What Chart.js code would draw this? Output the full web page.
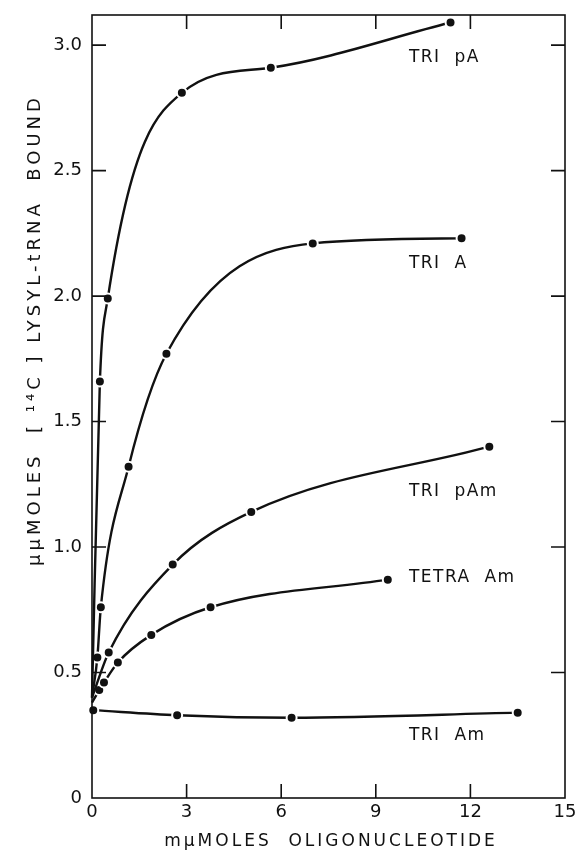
<!DOCTYPE html>
<html><head><meta charset="utf-8">
<script src="https://cdn.jsdelivr.net/npm/chart.js@4/dist/chart.umd.min.js"></script>
<style>html,body{margin:0;padding:0;background:#fff}</style>
</head><body>
<canvas id="c" width="576" height="852"></canvas>
<script>
// ---- data ----
const seriesNames = ["TRI pA", "TRI A", "TRI pAm", "TETRA Am", "TRI Am"];
const triPA_x   = [0, 0.25, 0.5, 2.85, 5.67, 11.37];
const triPA_y   = [0.40, 1.66, 1.99, 2.81, 2.91, 3.09];
const triA_x    = [0, 0.17, 0.28, 1.16, 2.36, 7.0, 11.72];
const triA_y    = [0.40, 0.56, 0.76, 1.32, 1.77, 2.21, 2.23];
const triPAm_x  = [0, 0.53, 2.56, 5.05, 12.6];
const triPAm_y  = [0.40, 0.58, 0.93, 1.14, 1.40];
const tetraAm_x = [0, 0.23, 0.38, 0.82, 1.88, 3.76, 9.38];
const tetraAm_y = [0.38, 0.43, 0.46, 0.54, 0.65, 0.76, 0.87];
const triAm_x   = [0.04, 2.7, 6.33, 13.5];
const triAm_y   = [0.35, 0.33, 0.32, 0.34];
const xTicks = [0, 3, 6, 9, 12, 15];
const yTicks = [0, 0.5, 1.0, 1.5, 2.0, 2.5, 3.0];
// label anchor (data coords) for each series name
const labelX = [10.05, 10.05, 10.05, 10.05, 10.05];
const labelY = [2.95, 2.13, 1.22, 0.88, 0.25];
const xTitle = "mμMOLES  OLIGONUCLEOTIDE";
const yTitle = "μμMOLES  [ ¹⁴C ] LYSYL-tRNA  BOUND";

const FONT = "'DejaVu Sans', sans-serif";
function pts(xs, ys){ return xs.map((x,i)=>({x, y: ys[i]})); }
const allX = [triPA_x, triA_x, triPAm_x, tetraAm_x, triAm_x];
const allY = [triPA_y, triA_y, triPAm_y, tetraAm_y, triAm_y];
const hideFirst = [true, true, true, true, false];

const datasets = seriesNames.map((n,k)=>({
  label: n,
  data: pts(allX[k], allY[k]),
  showLine: true,
  borderColor: '#111',
  borderWidth: 2.4,
  cubicInterpolationMode: 'monotone',
  pointBackgroundColor: '#111',
  pointBorderColor: '#fff',
  pointBorderWidth: 2,
  pointRadius: c => (hideFirst[k] && c.dataIndex === 0) ? 0 : 5,
  clip: false
}));

const framePlugin = {
  id: 'frame',
  afterDatasetsDraw(chart){
    const {ctx, chartArea: a, scales: {x, y}} = chart;
    ctx.save();
    ctx.strokeStyle = '#111';
    ctx.lineWidth = 1.6;
    ctx.strokeRect(a.left, a.top, a.right - a.left, a.bottom - a.top);
    const L = 14;
    ctx.beginPath();
    xTicks.forEach(v => {
      if (v === 0 || v === 15) return;
      const px = x.getPixelForValue(v);
      ctx.moveTo(px, a.bottom); ctx.lineTo(px, a.bottom - L);
      ctx.moveTo(px, a.top); ctx.lineTo(px, a.top + L);
    });
    yTicks.forEach(v => {
      if (v === 0) return;
      const py = y.getPixelForValue(v);
      ctx.moveTo(a.left, py); ctx.lineTo(a.left + L, py);
      ctx.moveTo(a.right, py); ctx.lineTo(a.right - L, py);
    });
    ctx.stroke();
    // series labels
    ctx.fillStyle = '#111';
    ctx.font = "17px " + FONT;
    ctx.textBaseline = 'middle';
    ctx.textAlign = 'left';
    try { ctx.letterSpacing = '1.5px'; } catch(e) {}
    seriesNames.forEach((n,i)=>{
      ctx.fillText(n.replace(' ', '  '), x.getPixelForValue(labelX[i]), y.getPixelForValue(labelY[i]));
    });
    // axis titles
    ctx.font = "17px " + FONT;
    try { ctx.letterSpacing = '3px'; } catch(e) {}
    ctx.textAlign = 'center';
    ctx.fillText(xTitle, 331, 842);
    ctx.font = "18px " + FONT;
    try { ctx.letterSpacing = '4px'; } catch(e) {}
    ctx.translate(35, 330);
    ctx.rotate(-Math.PI/2);
    ctx.fillText(yTitle, 0, 0);
    ctx.restore();
  }
};

new Chart(document.getElementById('c'), {
  type: 'scatter',
  data: { datasets },
  options: {
    responsive: false,
    animation: false,
    layout: { padding: { left: 0, right: 11, top: 15, bottom: 0 } },
    plugins: { legend: { display: false }, tooltip: { enabled: false } },
    scales: {
      x: {
        type: 'linear', min: 0, max: 15,
        afterFit(s){ s.height = 54; s.paddingLeft = 0; s.paddingRight = 0; },
        afterBuildTicks(s){ s.ticks = xTicks.map(v=>({value:v})); },
        grid: { display: false, drawTicks: false },
        border: { display: false },
        ticks: { color: '#111', font: { family: FONT, size: 18 }, padding: 4, callback: v => String(v) }
      },
      y: {
        type: 'linear', min: 0, max: 3.12,
        afterFit(s){ s.width = 92; s.paddingTop = 0; s.paddingBottom = 0; },
        afterBuildTicks(s){ s.ticks = yTicks.map(v=>({value:v})); },
        grid: { display: false, drawTicks: false },
        border: { display: false },
        ticks: { color: '#111', font: { family: FONT, size: 18 }, padding: 10,
                 callback: v => v === 0 ? '0' : Number(v).toFixed(1) }
      }
    }
  },
  plugins: [framePlugin]
});
</script>
</body></html>
